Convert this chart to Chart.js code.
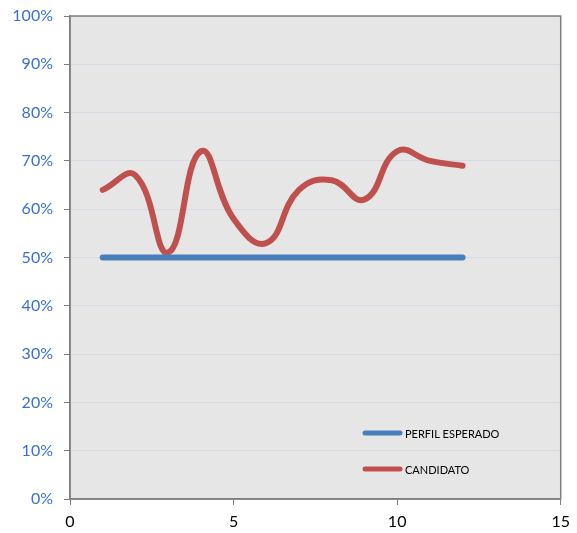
<!DOCTYPE html>
<html>
<head>
<meta charset="utf-8">
<script src="https://cdn.jsdelivr.net/npm/chart.js@4"></script>
<style>
  body { margin: 0; background: #fff; }
  #wrap { width: 577px; height: 533px; }
</style>
</head>
<body>
<div id="wrap"><canvas id="chart" width="577" height="533"></canvas></div>
<script>
// valores
let xValues = [1, 2, 3, 4, 5, 6, 7, 8, 9, 10, 11, 12];
let perfilEsperado = [50, 50, 50, 50, 50, 50, 50, 50, 50, 50, 50, 50];
let candidato = [64, 67, 51, 72, 58, 53, 64, 66, 62, 72, 70, 69];
let seriesNames = ['PERFIL ESPERADO', 'CANDIDATO'];
let seriesColors = ['#4a7ebb', '#c0504d'];

function toPoints(ys){
    let pts = [];
    for(let i = 0; i < xValues.length; i++){
        pts.push({x: xValues[i], y: ys[i]});
    }
    return pts;
}

// fondo gris, borde y leyenda dentro del area
const plotBox = {
    id: 'plotBox',
    beforeDraw(chart){
        let a = chart.chartArea, c = chart.ctx;
        c.save();
        c.fillStyle = '#e6e6e6';
        c.fillRect(a.left, a.top, a.right - a.left, a.bottom - a.top);
        c.restore();
    },
    afterDraw(chart){
        let a = chart.chartArea, c = chart.ctx;
        c.save();
        c.strokeStyle = '#7f7f7f';
        c.lineWidth = 1.5;
        c.strokeRect(a.left, a.top, a.right - a.left, a.bottom - a.top);
        // leyenda
        let lx = a.left + 293, ly = a.bottom - 66;
        chart.data.datasets.forEach((ds, i) => {
            let y = ly + i * 36;
            c.strokeStyle = ds.borderColor;
            c.lineWidth = 5;
            c.lineCap = 'round';
            c.beginPath();
            c.moveTo(lx + 2, y);
            c.lineTo(lx + 37, y);
            c.stroke();
            c.fillStyle = '#000';
            c.font = '11px Lato';
            c.textBaseline = 'middle';
            c.fillText(ds.label, lx + 42, y + 1);
        });
        c.restore();
    }
};

let ctx = document.getElementById('chart').getContext('2d');
let myChart = new Chart(ctx, {
    type: 'line',
    data: {
        datasets: [{
            label: seriesNames[0],
            data: toPoints(perfilEsperado),
            borderColor: seriesColors[0],
            borderWidth: 6,
            borderCapStyle: 'round',
            pointRadius: 0,
            tension: 0
        }, {
            label: seriesNames[1],
            data: toPoints(candidato),
            borderColor: seriesColors[1],
            borderWidth: 6,
            borderCapStyle: 'round',
            borderJoinStyle: 'round',
            pointRadius: 0,
            tension: 0.45
        }]
    },
    options: {
        responsive: false,
        animation: false,
        layout: { padding: { top: 16, right: 14, left: 0, bottom: 0 } },
        plugins: { legend: { display: false }, tooltip: { enabled: false } },
        scales: {
            x: {
                type: 'linear',
                min: 0, max: 15,
                afterFit(s){ s.height = 34; },
                ticks: { stepSize: 5, color: '#000', font: { family: 'Lato', size: 16 }, padding: 7 },
                grid: { drawOnChartArea: false, tickLength: 6, tickColor: '#7f7f7f' },
                border: { color: '#7f7f7f', width: 1.5 }
            },
            y: {
                min: 0, max: 100,
                afterFit(s){ s.width = 70; s.paddingTop = 0; s.paddingBottom = 0; },
                ticks: {
                    stepSize: 10,
                    color: '#3a6fd4',
                    font: { family: 'Lato', size: 16, lineHeight: 1 },
                    padding: 11,
                    callback: (v) => v + '%'
                },
                grid: { color: '#d7dbe6', tickLength: 6, tickColor: '#7f7f7f' },
                border: { color: '#7f7f7f', width: 1.5 }
            }
        }
    },
    plugins: [plotBox]
});
</script>
</body>
</html>
